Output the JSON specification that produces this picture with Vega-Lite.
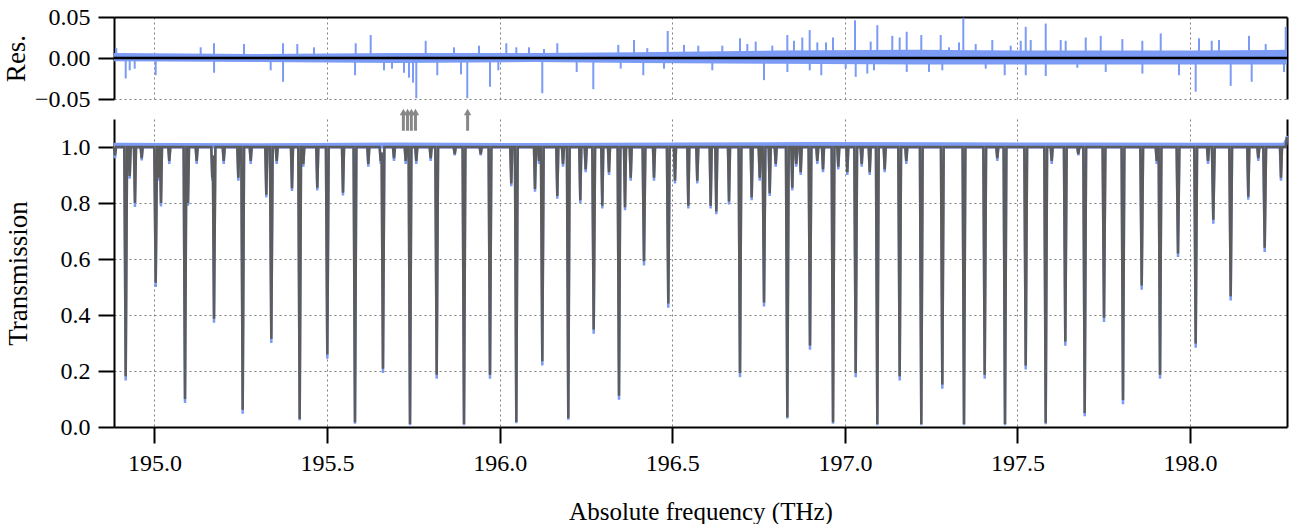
{
"$schema": "https://vega.github.io/schema/vega-lite/v6.json",
"padding": {"left": 2, "top": 5, "right": 5, "bottom": 0},
"bounds": "flush",
"spacing": 20,
"config": {
  "font": "Liberation Serif",
  "view": {"stroke": null},
  "axis": {"labelFont": "Liberation Serif", "titleFont": "Liberation Serif", "labelFontSize": 24, "titleFontSize": 27, "titleFontWeight": "normal", "labelColor": "black", "titleColor": "black", "domainColor": "black", "domainWidth": 2, "tickColor": "black", "tickWidth": 2, "tickSize": 16, "labelPadding": 8, "gridColor": "#808080", "gridDash": [2, 3], "gridWidth": 1, "gridOpacity": 1}
},
"datasets": {
  "resband": [
    {"f": 194.8827, "lo": -0.004, "hi": 0.006},
    {"f": 195.3, "lo": -0.005, "hi": 0.005},
    {"f": 195.7, "lo": -0.006, "hi": 0.006},
    {"f": 196.1, "lo": -0.005, "hi": 0.006},
    {"f": 196.4, "lo": -0.006, "hi": 0.007},
    {"f": 196.8, "lo": -0.007, "hi": 0.009},
    {"f": 197.2, "lo": -0.008, "hi": 0.010},
    {"f": 197.6, "lo": -0.008, "hi": 0.009},
    {"f": 198.0, "lo": -0.008, "hi": 0.009},
    {"f": 198.2807, "lo": -0.008, "hi": 0.010}
  ],
  "res": [
    {"f": 194.8893, "r": 0.012}, {"f": 194.9166, "r": -0.025}, {"f": 194.9282, "r": -0.015}, {"f": 194.9426, "r": -0.013},
    {"f": 195.0035, "r": -0.021}, {"f": 195.1338, "r": 0.013}, {"f": 195.1724, "r": 0.018}, {"f": 195.1726, "r": -0.018},
    {"f": 195.2593, "r": 0.017}, {"f": 195.3366, "r": -0.015}, {"f": 195.3722, "r": 0.018}, {"f": 195.3724, "r": -0.029},
    {"f": 195.4137, "r": 0.017}, {"f": 195.4621, "r": 0.013}, {"f": 195.5829, "r": 0.018}, {"f": 195.5810, "r": -0.021},
    {"f": 195.6263, "r": 0.028}, {"f": 195.6648, "r": -0.015}, {"f": 195.6880, "r": -0.013}, {"f": 195.7228, "r": -0.018},
    {"f": 195.7373, "r": -0.024}, {"f": 195.7489, "r": -0.030}, {"f": 195.7584, "r": -0.049}, {"f": 195.7856, "r": 0.021},
    {"f": 195.8192, "r": -0.021}, {"f": 195.8676, "r": 0.013}, {"f": 195.8879, "r": -0.020}, {"f": 195.9061, "r": -0.049},
    {"f": 195.9400, "r": 0.015}, {"f": 195.9719, "r": -0.035}, {"f": 195.9960, "r": -0.015}, {"f": 196.0191, "r": 0.018},
    {"f": 196.0481, "r": 0.013}, {"f": 196.0849, "r": 0.013}, {"f": 196.1234, "r": -0.043}, {"f": 196.1283, "r": 0.011},
    {"f": 196.1669, "r": 0.018}, {"f": 196.2231, "r": -0.017}, {"f": 196.2711, "r": -0.038}, {"f": 196.3436, "r": 0.016},
    {"f": 196.3505, "r": -0.013}, {"f": 196.3890, "r": 0.022}, {"f": 196.4160, "r": -0.021}, {"f": 196.4276, "r": 0.012},
    {"f": 196.4760, "r": -0.013}, {"f": 196.4867, "r": 0.033}, {"f": 196.5339, "r": 0.016}, {"f": 196.5753, "r": 0.015},
    {"f": 196.6159, "r": -0.015}, {"f": 196.6449, "r": 0.015}, {"f": 196.6961, "r": 0.024}, {"f": 196.7173, "r": 0.017},
    {"f": 196.7416, "r": 0.020}, {"f": 196.7657, "r": -0.027}, {"f": 196.7897, "r": 0.015}, {"f": 196.8332, "r": 0.028},
    {"f": 196.8334, "r": -0.017}, {"f": 196.8526, "r": 0.021}, {"f": 196.8766, "r": 0.025}, {"f": 196.8980, "r": 0.034},
    {"f": 196.8982, "r": -0.015}, {"f": 196.9201, "r": 0.019}, {"f": 196.9316, "r": -0.021}, {"f": 196.9453, "r": 0.019},
    {"f": 196.9655, "r": 0.025}, {"f": 197.0023, "r": -0.013}, {"f": 197.0293, "r": 0.046}, {"f": 197.0313, "r": -0.023},
    {"f": 197.0649, "r": -0.019}, {"f": 197.0747, "r": 0.020}, {"f": 197.0843, "r": -0.015}, {"f": 197.0939, "r": 0.040},
    {"f": 197.1373, "r": 0.027}, {"f": 197.1587, "r": 0.025}, {"f": 197.1790, "r": 0.032}, {"f": 197.1792, "r": -0.017},
    {"f": 197.2213, "r": 0.028}, {"f": 197.2436, "r": -0.017}, {"f": 197.2775, "r": 0.028}, {"f": 197.2822, "r": -0.015},
    {"f": 197.3016, "r": 0.013}, {"f": 197.3306, "r": 0.019}, {"f": 197.3430, "r": 0.049}, {"f": 197.3789, "r": 0.017},
    {"f": 197.4079, "r": -0.013}, {"f": 197.4270, "r": 0.022}, {"f": 197.4629, "r": -0.021}, {"f": 197.4803, "r": 0.015},
    {"f": 197.5093, "r": 0.021}, {"f": 197.5238, "r": 0.038}, {"f": 197.5240, "r": -0.021}, {"f": 197.5383, "r": 0.022},
    {"f": 197.5817, "r": 0.042}, {"f": 197.5819, "r": -0.022}, {"f": 197.6252, "r": 0.022}, {"f": 197.6396, "r": 0.021},
    {"f": 197.6733, "r": -0.012}, {"f": 197.6976, "r": 0.025}, {"f": 197.7411, "r": 0.027}, {"f": 197.7556, "r": -0.017},
    {"f": 197.8037, "r": 0.023}, {"f": 197.8616, "r": 0.021}, {"f": 197.8618, "r": -0.019}, {"f": 197.9149, "r": 0.030},
    {"f": 197.9679, "r": -0.021}, {"f": 198.0162, "r": -0.041}, {"f": 198.0258, "r": 0.024}, {"f": 198.0626, "r": 0.021},
    {"f": 198.0837, "r": 0.022}, {"f": 198.1176, "r": -0.034}, {"f": 198.1706, "r": 0.027}, {"f": 198.1784, "r": -0.029},
    {"f": 198.2190, "r": 0.017}, {"f": 198.2720, "r": -0.017}, {"f": 198.2770, "r": 0.038}
  ],
  "band": [
    {"f": 194.8827, "lo": 0.995, "hi": 1.015},
    {"f": 195.3, "lo": 0.995, "hi": 1.013},
    {"f": 195.7, "lo": 0.995, "hi": 1.016},
    {"f": 196.1, "lo": 0.995, "hi": 1.014},
    {"f": 196.5, "lo": 0.995, "hi": 1.016},
    {"f": 196.9, "lo": 0.995, "hi": 1.018},
    {"f": 197.3, "lo": 0.995, "hi": 1.017},
    {"f": 197.7, "lo": 0.995, "hi": 1.016},
    {"f": 198.1, "lo": 0.995, "hi": 1.015},
    {"f": 198.27, "lo": 0.995, "hi": 1.015},
    {"f": 198.2807, "lo": 1.0, "hi": 1.045}
  ],
  "arrows": [{"f": 195.721}, {"f": 195.733}, {"f": 195.744}, {"f": 195.756}, {"f": 195.907}],
  "spec": [
    {"f":194.8827,"t":1,"d":1},{"f":194.8856,"t":0.97,"d":0.96},{"f":194.8886,"t":1,"d":1},
    {"f":194.9126,"t":1,"d":1},{"f":194.9166,"t":0.181,"d":0.166},{"f":194.9206,"t":1,"d":1},
    {"f":194.9252,"t":1,"d":1},{"f":194.9282,"t":0.897,"d":0.887},{"f":194.9312,"t":1,"d":1},
    {"f":194.9405,"t":1,"d":1},{"f":194.9435,"t":0.80,"d":0.786},{"f":194.9465,"t":1,"d":1},
    {"f":194.9599,"t":1,"d":1},{"f":194.9629,"t":0.96,"d":0.952},{"f":194.9659,"t":1,"d":1},
    {"f":194.9995,"t":1,"d":1},{"f":195.0035,"t":0.515,"d":0.50},{"f":195.0075,"t":1,"d":1},
    {"f":195.0082,"t":1,"d":1},{"f":195.0110,"t":0.89,"d":0.88},{"f":195.0140,"t":1,"d":1},
    {"f":195.0158,"t":1,"d":1},{"f":195.0188,"t":0.80,"d":0.788},{"f":195.0218,"t":1,"d":1},
    {"f":195.0399,"t":1,"d":1},{"f":195.0429,"t":0.95,"d":0.94},{"f":195.0459,"t":1,"d":1},
    {"f":195.0844,"t":1,"d":1},{"f":195.0884,"t":0.10,"d":0.086},{"f":195.0924,"t":1,"d":1},
    {"f":195.0940,"t":1,"d":1},{"f":195.0970,"t":0.80,"d":0.79},{"f":195.1000,"t":1,"d":1},
    {"f":195.1192,"t":1,"d":1},{"f":195.1222,"t":0.95,"d":0.94},{"f":195.1252,"t":1,"d":1},
    {"f":195.1644,"t":1,"d":1},{"f":195.1674,"t":0.89,"d":0.88},{"f":195.1690,"t":0.97,"d":0.97},{"f":195.1724,"t":0.387,"d":0.372},{"f":195.1764,"t":1,"d":1},
    {"f":195.1975,"t":1,"d":1},{"f":195.2005,"t":0.95,"d":0.94},{"f":195.2035,"t":1,"d":1},
    {"f":195.2398,"t":1,"d":1},{"f":195.2428,"t":0.89,"d":0.88},{"f":195.2458,"t":1,"d":1},
    {"f":195.2515,"t":1,"d":1},{"f":195.2555,"t":0.062,"d":0.047},{"f":195.2595,"t":1,"d":1},
    {"f":195.2757,"t":1,"d":1},{"f":195.2787,"t":0.95,"d":0.94},{"f":195.2817,"t":1,"d":1},
    {"f":195.3209,"t":1,"d":1},{"f":195.3239,"t":0.83,"d":0.82},{"f":195.3269,"t":1,"d":1},
    {"f":195.3344,"t":1,"d":1},{"f":195.3384,"t":0.315,"d":0.30},{"f":195.3424,"t":1,"d":1},
    {"f":195.3510,"t":1,"d":1},{"f":195.3540,"t":0.95,"d":0.94},{"f":195.3570,"t":1,"d":1},
    {"f":195.3953,"t":1,"d":1},{"f":195.3983,"t":0.853,"d":0.843},{"f":195.4013,"t":1,"d":1},
    {"f":195.4166,"t":1,"d":1},{"f":195.4206,"t":0.029,"d":0.024},{"f":195.4246,"t":1,"d":1},
    {"f":195.4281,"t":1,"d":1},{"f":195.4311,"t":0.94,"d":0.93},{"f":195.4341,"t":1,"d":1},
    {"f":195.4686,"t":1,"d":1},{"f":195.4716,"t":0.855,"d":0.845},{"f":195.4746,"t":1,"d":1},
    {"f":195.4966,"t":1,"d":1},{"f":195.5006,"t":0.259,"d":0.244},{"f":195.5046,"t":1,"d":1},
    {"f":195.5431,"t":1,"d":1},{"f":195.5461,"t":0.837,"d":0.827},{"f":195.5491,"t":1,"d":1},
    {"f":195.5768,"t":1,"d":1},{"f":195.5808,"t":0.017,"d":0.012},{"f":195.5848,"t":1,"d":1},
    {"f":195.6164,"t":1,"d":1},{"f":195.6194,"t":0.94,"d":0.93},{"f":195.6224,"t":1,"d":1},
    {"f":195.6523,"t":1,"d":1},{"f":195.6553,"t":0.95,"d":0.94},{"f":195.6580,"t":0.98,"d":0.98},{"f":195.6619,"t":0.208,"d":0.193},{"f":195.6659,"t":1,"d":1},
    {"f":195.6908,"t":1,"d":1},{"f":195.6938,"t":0.96,"d":0.95},{"f":195.6968,"t":1,"d":1},
    {"f":195.7247,"t":1,"d":1},{"f":195.7277,"t":0.95,"d":0.94},{"f":195.7307,"t":1,"d":1},
    {"f":195.7362,"t":1,"d":1},{"f":195.7402,"t":0.011,"d":0.006},{"f":195.7442,"t":1,"d":1},
    {"f":195.7554,"t":1,"d":1},{"f":195.7584,"t":0.95,"d":0.94},{"f":195.7614,"t":1,"d":1},
    {"f":195.7971,"t":1,"d":1},{"f":195.8001,"t":0.96,"d":0.95},{"f":195.8031,"t":1,"d":1},
    {"f":195.8135,"t":1,"d":1},{"f":195.8175,"t":0.187,"d":0.172},{"f":195.8215,"t":1,"d":1},
    {"f":195.8667,"t":1,"d":1},{"f":195.8697,"t":0.975,"d":0.97},{"f":195.8727,"t":1,"d":1},
    {"f":195.8926,"t":1,"d":1},{"f":195.8966,"t":0.011,"d":0.006},{"f":195.9006,"t":1,"d":1},
    {"f":195.9420,"t":1,"d":1},{"f":195.9450,"t":0.975,"d":0.97},{"f":195.9480,"t":1,"d":1},
    {"f":195.9679,"t":1,"d":1},{"f":195.9719,"t":0.187,"d":0.172},{"f":195.9759,"t":1,"d":1},
    {"f":196.0306,"t":1,"d":1},{"f":196.0336,"t":0.87,"d":0.86},{"f":196.0366,"t":1,"d":1},
    {"f":196.0441,"t":1,"d":1},{"f":196.0481,"t":0.018,"d":0.013},{"f":196.0521,"t":1,"d":1},
    {"f":196.0993,"t":1,"d":1},{"f":196.1023,"t":0.85,"d":0.84},{"f":196.1053,"t":1,"d":1},
    {"f":196.1109,"t":1,"d":1},{"f":196.1139,"t":0.95,"d":0.94},{"f":196.1169,"t":1,"d":1},
    {"f":196.1194,"t":1,"d":1},{"f":196.1234,"t":0.235,"d":0.22},{"f":196.1274,"t":1,"d":1},
    {"f":196.1639,"t":1,"d":1},{"f":196.1669,"t":0.825,"d":0.815},{"f":196.1699,"t":1,"d":1},
    {"f":196.1804,"t":1,"d":1},{"f":196.1834,"t":0.94,"d":0.93},{"f":196.1864,"t":1,"d":1},
    {"f":196.1947,"t":1,"d":1},{"f":196.1987,"t":0.031,"d":0.026},{"f":196.2027,"t":1,"d":1},
    {"f":196.2305,"t":1,"d":1},{"f":196.2335,"t":0.81,"d":0.80},{"f":196.2365,"t":1,"d":1},
    {"f":196.2461,"t":1,"d":1},{"f":196.2491,"t":0.92,"d":0.91},{"f":196.2521,"t":1,"d":1},
    {"f":196.2683,"t":1,"d":1},{"f":196.2723,"t":0.348,"d":0.333},{"f":196.2763,"t":1,"d":1},
    {"f":196.2942,"t":1,"d":1},{"f":196.2972,"t":0.79,"d":0.78},{"f":196.3002,"t":1,"d":1},
    {"f":196.3136,"t":1,"d":1},{"f":196.3166,"t":0.91,"d":0.90},{"f":196.3196,"t":1,"d":1},
    {"f":196.3416,"t":1,"d":1},{"f":196.3456,"t":0.112,"d":0.097},{"f":196.3496,"t":1,"d":1},
    {"f":196.3600,"t":1,"d":1},{"f":196.3630,"t":0.785,"d":0.774},{"f":196.3660,"t":1,"d":1},
    {"f":196.3765,"t":1,"d":1},{"f":196.3795,"t":0.89,"d":0.88},{"f":196.3825,"t":1,"d":1},
    {"f":196.4140,"t":1,"d":1},{"f":196.4180,"t":0.592,"d":0.577},{"f":196.4220,"t":1,"d":1},
    {"f":196.4440,"t":1,"d":1},{"f":196.4470,"t":0.89,"d":0.88},{"f":196.4500,"t":1,"d":1},
    {"f":196.4844,"t":1,"d":1},{"f":196.4884,"t":0.441,"d":0.426},{"f":196.4924,"t":1,"d":1},
    {"f":196.5048,"t":1,"d":1},{"f":196.5078,"t":0.88,"d":0.87},{"f":196.5108,"t":1,"d":1},
    {"f":196.5434,"t":1,"d":1},{"f":196.5464,"t":0.79,"d":0.78},{"f":196.5494,"t":1,"d":1},
    {"f":196.5694,"t":1,"d":1},{"f":196.5724,"t":0.88,"d":0.87},{"f":196.5754,"t":1,"d":1},
    {"f":196.6082,"t":1,"d":1},{"f":196.6112,"t":0.79,"d":0.78},{"f":196.6142,"t":1,"d":1},
    {"f":196.6245,"t":1,"d":1},{"f":196.6275,"t":0.77,"d":0.76},{"f":196.6305,"t":1,"d":1},
    {"f":196.6613,"t":1,"d":1},{"f":196.6643,"t":0.805,"d":0.795},{"f":196.6673,"t":1,"d":1},
    {"f":196.6921,"t":1,"d":1},{"f":196.6961,"t":0.193,"d":0.178},{"f":196.7001,"t":1,"d":1},
    {"f":196.7270,"t":1,"d":1},{"f":196.7300,"t":0.82,"d":0.81},{"f":196.7330,"t":1,"d":1},
    {"f":196.7502,"t":1,"d":1},{"f":196.7532,"t":0.89,"d":0.88},{"f":196.7562,"t":1,"d":1},
    {"f":196.7617,"t":1,"d":1},{"f":196.7657,"t":0.445,"d":0.43},{"f":196.7697,"t":1,"d":1},
    {"f":196.7792,"t":1,"d":1},{"f":196.7822,"t":0.835,"d":0.825},{"f":196.7852,"t":1,"d":1},
    {"f":196.7966,"t":1,"d":1},{"f":196.7996,"t":0.94,"d":0.93},{"f":196.8026,"t":1,"d":1},
    {"f":196.8292,"t":1,"d":1},{"f":196.8332,"t":0.035,"d":0.03},{"f":196.8372,"t":1,"d":1},
    {"f":196.8446,"t":1,"d":1},{"f":196.8476,"t":0.855,"d":0.845},{"f":196.8506,"t":1,"d":1},
    {"f":196.8562,"t":1,"d":1},{"f":196.8592,"t":0.94,"d":0.93},{"f":196.8622,"t":1,"d":1},
    {"f":196.8690,"t":1,"d":1},{"f":196.8720,"t":0.91,"d":0.90},{"f":196.8750,"t":1,"d":1},
    {"f":196.8949,"t":1,"d":1},{"f":196.8989,"t":0.291,"d":0.276},{"f":196.9029,"t":1,"d":1},
    {"f":196.9171,"t":1,"d":1},{"f":196.9201,"t":0.95,"d":0.94},{"f":196.9231,"t":1,"d":1},
    {"f":196.9336,"t":1,"d":1},{"f":196.9366,"t":0.92,"d":0.91},{"f":196.9396,"t":1,"d":1},
    {"f":196.9616,"t":1,"d":1},{"f":196.9656,"t":0.017,"d":0.012},{"f":196.9696,"t":1,"d":1},
    {"f":196.9779,"t":1,"d":1},{"f":196.9809,"t":0.93,"d":0.92},{"f":196.9839,"t":1,"d":1},
    {"f":197.0040,"t":1,"d":1},{"f":197.0070,"t":0.91,"d":0.90},{"f":197.0100,"t":1,"d":1},
    {"f":197.0273,"t":1,"d":1},{"f":197.0313,"t":0.193,"d":0.178},{"f":197.0353,"t":1,"d":1},
    {"f":197.0457,"t":1,"d":1},{"f":197.0487,"t":0.94,"d":0.93},{"f":197.0517,"t":1,"d":1},
    {"f":197.0689,"t":1,"d":1},{"f":197.0719,"t":0.91,"d":0.90},{"f":197.0749,"t":1,"d":1},
    {"f":197.0899,"t":1,"d":1},{"f":197.0939,"t":0.011,"d":0.006},{"f":197.0979,"t":1,"d":1},
    {"f":197.1123,"t":1,"d":1},{"f":197.1153,"t":0.92,"d":0.91},{"f":197.1183,"t":1,"d":1},
    {"f":197.1547,"t":1,"d":1},{"f":197.1587,"t":0.181,"d":0.166},{"f":197.1627,"t":1,"d":1},
    {"f":197.1749,"t":1,"d":1},{"f":197.1779,"t":0.95,"d":0.94},{"f":197.1809,"t":1,"d":1},
    {"f":197.2173,"t":1,"d":1},{"f":197.2213,"t":0.011,"d":0.006},{"f":197.2253,"t":1,"d":1},
    {"f":197.2782,"t":1,"d":1},{"f":197.2822,"t":0.152,"d":0.137},{"f":197.2862,"t":1,"d":1},
    {"f":197.3410,"t":1,"d":1},{"f":197.3450,"t":0.011,"d":0.006},{"f":197.3490,"t":1,"d":1},
    {"f":197.4010,"t":1,"d":1},{"f":197.4050,"t":0.187,"d":0.172},{"f":197.4090,"t":1,"d":1},
    {"f":197.4385,"t":1,"d":1},{"f":197.4415,"t":0.96,"d":0.95},{"f":197.4445,"t":1,"d":1},
    {"f":197.4598,"t":1,"d":1},{"f":197.4638,"t":0.011,"d":0.006},{"f":197.4678,"t":1,"d":1},
    {"f":197.5198,"t":1,"d":1},{"f":197.5238,"t":0.22,"d":0.205},{"f":197.5278,"t":1,"d":1},
    {"f":197.5777,"t":1,"d":1},{"f":197.5817,"t":0.015,"d":0.01},{"f":197.5857,"t":1,"d":1},
    {"f":197.5961,"t":1,"d":1},{"f":197.5991,"t":0.95,"d":0.94},{"f":197.6021,"t":1,"d":1},
    {"f":197.6345,"t":1,"d":1},{"f":197.6385,"t":0.305,"d":0.29},{"f":197.6425,"t":1,"d":1},
    {"f":197.6732,"t":1,"d":1},{"f":197.6762,"t":0.975,"d":0.97},{"f":197.6792,"t":1,"d":1},
    {"f":197.6907,"t":1,"d":1},{"f":197.6947,"t":0.05,"d":0.038},{"f":197.6987,"t":1,"d":1},
    {"f":197.7466,"t":1,"d":1},{"f":197.7506,"t":0.39,"d":0.375},{"f":197.7546,"t":1,"d":1},
    {"f":197.8016,"t":1,"d":1},{"f":197.8056,"t":0.096,"d":0.081},{"f":197.8096,"t":1,"d":1},
    {"f":197.8558,"t":1,"d":1},{"f":197.8598,"t":0.505,"d":0.49},{"f":197.8638,"t":1,"d":1},
    {"f":197.9003,"t":1,"d":1},{"f":197.9033,"t":0.95,"d":0.94},{"f":197.9063,"t":1,"d":1},
    {"f":197.9089,"t":1,"d":1},{"f":197.9129,"t":0.187,"d":0.172},{"f":197.9169,"t":1,"d":1},
    {"f":197.9610,"t":1,"d":1},{"f":197.9650,"t":0.62,"d":0.607},{"f":197.9690,"t":1,"d":1},
    {"f":198.0122,"t":1,"d":1},{"f":198.0162,"t":0.298,"d":0.283},{"f":198.0202,"t":1,"d":1},
    {"f":198.0489,"t":1,"d":1},{"f":198.0519,"t":0.95,"d":0.94},{"f":198.0549,"t":1,"d":1},
    {"f":198.0632,"t":1,"d":1},{"f":198.0672,"t":0.74,"d":0.726},{"f":198.0712,"t":1,"d":1},
    {"f":198.1136,"t":1,"d":1},{"f":198.1176,"t":0.467,"d":0.452},{"f":198.1216,"t":1,"d":1},
    {"f":198.1656,"t":1,"d":1},{"f":198.1686,"t":0.822,"d":0.812},{"f":198.1716,"t":1,"d":1},
    {"f":198.1946,"t":1,"d":1},{"f":198.1976,"t":0.96,"d":0.95},{"f":198.2006,"t":1,"d":1},
    {"f":198.2121,"t":1,"d":1},{"f":198.2161,"t":0.64,"d":0.625},{"f":198.2201,"t":1,"d":1},
    {"f":198.2603,"t":1,"d":1},{"f":198.2633,"t":0.89,"d":0.88},{"f":198.2663,"t":1,"d":1},
    {"f":198.2770,"t":1,"d":1},{"f":198.2807,"t":1.035,"d":1.04}
  ]
},
"vconcat": [
  {
    "width": 1173, "height": 82,
    "layer": [
      {
        "data": {"name": "resband"},
        "mark": {"type": "area", "color": "#7b9bf5", "opacity": 1},
        "encoding": {
          "x": {"field": "f", "type": "quantitative", "scale": {"domain": [194.8827, 198.2807], "nice": false, "zero": false},
                "axis": {"orient": "top", "labels": false, "ticks": false, "title": null, "grid": true, "domain": true, "values": [195, 195.5, 196, 196.5, 197, 197.5, 198]}},
          "y": {"field": "lo", "type": "quantitative", "scale": {"domain": [-0.05, 0.05], "nice": false},
                "axis": {"title": "Res.", "values": [-0.05, 0, 0.05], "format": ".2f", "grid": true, "titlePadding": 4}},
          "y2": {"field": "hi"}
        }
      },
      {
        "data": {"name": "res"},
        "mark": {"type": "rule", "color": "#7b9bf5", "strokeWidth": 2},
        "encoding": {
          "x": {"field": "f", "type": "quantitative", "axis": null},
          "y": {"field": "r", "type": "quantitative", "axis": null},
          "y2": {"datum": 0}
        }
      },
      {
        "data": {"values": [{}]},
        "mark": {"type": "rule", "color": "black", "strokeWidth": 2.5},
        "encoding": {
          "y": {"datum": 0, "type": "quantitative", "axis": {"orient": "right", "labels": false, "ticks": false, "grid": false, "title": null, "domain": true}}
        }
      }
    ],
    "resolve": {"axis": {"x": "independent", "y": "independent"}}
  },
  {
    "width": 1173, "height": 308,
    "layer": [
      {
        "data": {"name": "band"},
        "mark": {"type": "area", "color": "#7b9bf5", "opacity": 1},
        "encoding": {
          "x": {"field": "f", "type": "quantitative", "scale": {"domain": [194.8827, 198.2807], "nice": false, "zero": false},
                "axis": {"values": [195, 195.5, 196, 196.5, 197, 197.5, 198], "format": ".1f", "title": "Absolute frequency (THz)", "titleFontSize": 25, "grid": true, "titlePadding": 24}},
          "y": {"field": "lo", "type": "quantitative", "scale": {"domain": [0, 1.1], "nice": false},
                "axis": {"values": [0, 0.2, 0.4, 0.6, 0.8, 1.0], "format": ".1f", "title": "Transmission", "grid": true, "titlePadding": 28}},
          "y2": {"field": "hi"}
        }
      },
      {
        "data": {"name": "spec"},
        "mark": {"type": "line", "color": "#7b9bf5", "strokeWidth": 2.5},
        "encoding": {
          "x": {"field": "f", "type": "quantitative", "axis": null},
          "y": {"field": "d", "type": "quantitative", "axis": null}
        }
      },
      {
        "data": {"name": "spec"},
        "mark": {"type": "line", "color": "#5c5c5c", "strokeWidth": 2.5},
        "encoding": {
          "x": {"field": "f", "type": "quantitative", "axis": null},
          "y": {"field": "t", "type": "quantitative", "axis": null}
        }
      },
      {
        "data": {"name": "arrows"},
        "mark": {"type": "rule", "color": "#888888", "strokeWidth": 3},
        "encoding": {
          "x": {"field": "f", "type": "quantitative", "axis": null},
          "y": {"datum": 1.058, "type": "quantitative", "axis": null},
          "y2": {"datum": 1.12}
        }
      },
      {
        "data": {"name": "arrows"},
        "mark": {"type": "point", "shape": "triangle-up", "filled": true, "color": "#888888", "size": 55, "opacity": 1},
        "encoding": {
          "x": {"field": "f", "type": "quantitative", "axis": null},
          "y": {"datum": 1.125, "type": "quantitative", "axis": null}
        }
      },
      {
        "data": {"values": [{}]},
        "mark": {"type": "rule", "opacity": 0},
        "encoding": {
          "y": {"datum": 1, "type": "quantitative", "axis": {"orient": "right", "labels": false, "ticks": false, "grid": false, "title": null, "domain": true}}
        }
      }
    ],
    "resolve": {"axis": {"x": "independent", "y": "independent"}}
  }
]
}
